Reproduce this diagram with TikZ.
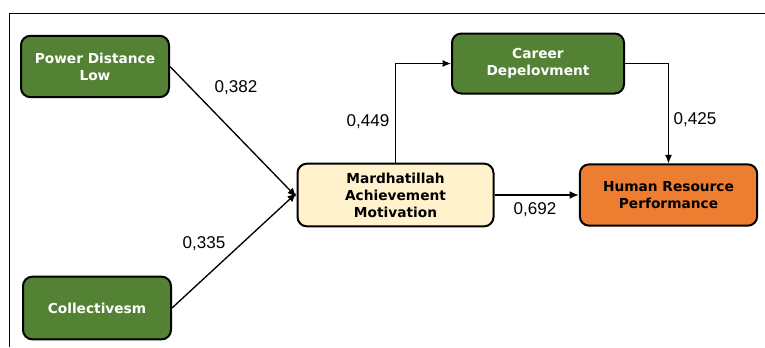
\documentclass[tikz,border=0pt]{standalone}
\usepackage{fontspec}
\setmainfont{Liberation Sans}
\newfontfamily\boxfont{DejaVu Sans}
\usepackage{xcolor}
\usetikzlibrary{arrows.meta}

\definecolor{pathgreen}{RGB}{84,130,53}
\definecolor{pathcream}{RGB}{255,242,204}
\definecolor{pathorange}{RGB}{237,125,49}

\tikzset{
  construct/.style={draw=black, line width=1.5pt, rounded corners=7pt, align=center,
    font=\boxfont\bfseries\fontsize{10.3}{12.8}\selectfont, inner sep=0pt},
  greenbox/.style={construct, fill=pathgreen, text=white},
  path coef/.style={font=\fontsize{12.8}{14}\selectfont},
  link/.style={line width=1pt, -{Latex[length=2.4mm,width=2mm]}},
  thinlink/.style={line width=0.7pt, -{Latex[length=2.2mm,width=1.8mm]}}
}

\begin{document}
\begin{tikzpicture}[x=0.75pt,y=0.75pt,yscale=-1,xscale=1]
\useasboundingbox (0,0) rectangle (765,347);

%Frame
\draw [line width=0.6pt]  (9,347) -- (9,13) -- (765,13) ;

% Constructs
\node [greenbox, minimum width=111pt, minimum height=46pt] (pdl) at (95,66.5) {Power Distance\\Low};
\node [greenbox, minimum width=111pt, minimum height=47pt] (col) at (97,308) {Collectivesm};
\node [construct, fill=pathcream, minimum width=147pt, minimum height=47pt] (mam) at (395.5,195) {Mardhatillah\\Achievement\\Motivation};
\node [greenbox, minimum width=129pt, minimum height=45pt] (car) at (538,63.5) {Career\\Depelovment};
\node [construct, fill=pathorange, minimum width=133pt, minimum height=46pt] (hrp) at (668.5,195) {Human Resource\\Performance};

% Paths
\draw [link]  (pdl.east) -- ([yshift=1.5pt]mam.west) ;
\draw [link]  (col.east) -- ([yshift=-1.5pt]mam.west) ;
\draw [thinlink]  (mam.north) |- (car.west) ;
\draw [thinlink]  (car.east) -| (hrp.north) ;
\draw [link]  (mam.east) -- (hrp.west) ;

% Coefficients
\node [path coef] (c382) at (236,88) {0,382};
\node [path coef] (c335) at (204,244) {0,335};
\node [path coef] (c449) at (368,122) {0,449};
\node [path coef] (c692) at (535,210) {0,692};
\node [path coef] (c425) at (695,120) {0,425};

\end{tikzpicture}
\end{document}
